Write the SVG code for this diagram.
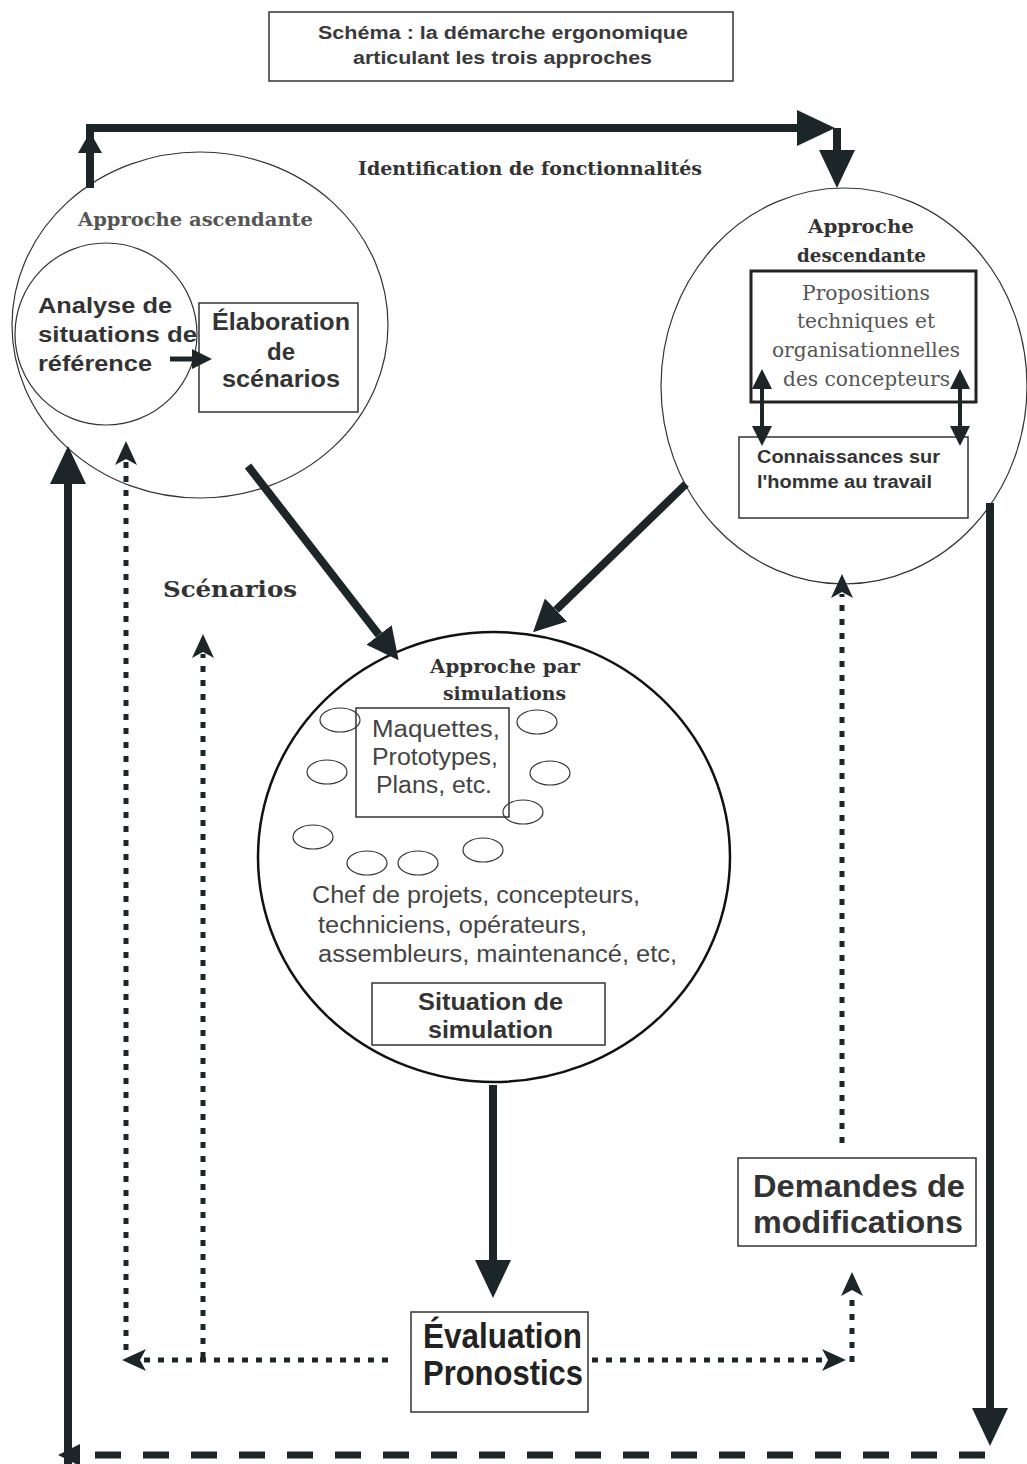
<svg xmlns="http://www.w3.org/2000/svg" width="1027" height="1464" viewBox="0 0 1027 1464">
<style>
.sans{font-family:"Liberation Sans",Arial,sans-serif;}
.serif{font-family:"DejaVu Serif","Liberation Serif",serif;}
.thin{fill:none;stroke:#333;stroke-width:1.2;}
.box{fill:none;stroke:#333;stroke-width:1.5;}
.thick{fill:none;stroke:#1c2629;stroke-width:8;}
.dot{fill:none;stroke:#1c2629;stroke-width:5;stroke-dasharray:6 8;}
.dash{fill:none;stroke:#1c2629;stroke-width:7;stroke-dasharray:26 22;}
.head{fill:#1c2629;}
</style>
<defs>
<marker id="big" markerUnits="userSpaceOnUse" markerWidth="38" markerHeight="36" refX="0" refY="18" orient="auto" viewBox="0 0 38 36"><path d="M0,0 L38,18 L0,36 z" fill="#1c2629"/></marker>
<marker id="mid" markerUnits="userSpaceOnUse" markerWidth="32" markerHeight="32" refX="0" refY="16" orient="auto" viewBox="0 0 32 32"><path d="M0,0 L32,16 L0,32 z" fill="#1c2629"/></marker>
<marker id="small" markerUnits="userSpaceOnUse" markerWidth="20" markerHeight="20" refX="2" refY="10" orient="auto-start-reverse" viewBox="0 0 20 20"><path d="M0,0 L20,10 L0,20 z" fill="#1c2629"/></marker>
<marker id="dh" markerUnits="userSpaceOnUse" markerWidth="24" markerHeight="22" refX="4" refY="11" orient="auto" viewBox="0 0 24 22"><path d="M0,0 L24,11 L0,22 L6,11 z" fill="#1c2629"/></marker>
</defs>

<g id="title">
<rect x="269" y="12" width="464" height="69" class="box" stroke-width="1.2"/>
<text class="sans" x="318" y="39" font-size="18" font-weight="bold" fill="#3a3a3a" textLength="370" lengthAdjust="spacingAndGlyphs">Schéma : la démarche ergonomique</text>
<text class="sans" x="353" y="64" font-size="18" font-weight="bold" fill="#3a3a3a" textLength="299" lengthAdjust="spacingAndGlyphs">articulant les trois approches</text>
</g>

<g id="label-identification">
<text class="serif" x="358" y="175" font-size="18" font-weight="bold" fill="#333" textLength="344" lengthAdjust="spacingAndGlyphs">Identification de fonctionnalités</text>
</g>
<g id="label-scenarios">
<text class="serif" x="163" y="597" font-size="23" font-weight="bold" fill="#333" textLength="134" lengthAdjust="spacingAndGlyphs">Scénarios</text>
</g>

<g id="approche-ascendante">
<ellipse cx="200" cy="325" rx="188" ry="173" class="thin"/>
<text class="serif" x="78" y="226" font-size="18" font-weight="bold" fill="#555" textLength="235" lengthAdjust="spacingAndGlyphs">Approche ascendante</text>
</g>
<g id="analyse">
<ellipse cx="106" cy="334" rx="91" ry="91" class="thin"/>
<text class="sans" x="38" y="313" font-size="22" font-weight="bold" fill="#333" textLength="134" lengthAdjust="spacingAndGlyphs">Analyse de</text>
<text class="sans" x="38" y="342" font-size="22" font-weight="bold" fill="#333" textLength="159" lengthAdjust="spacingAndGlyphs">situations de</text>
<text class="sans" x="38" y="371" font-size="22" font-weight="bold" fill="#333" textLength="114" lengthAdjust="spacingAndGlyphs">référence</text>
</g>
<g id="elaboration">
<rect x="199" y="303" width="159" height="109" class="box"/>
<text class="sans" x="212" y="330" font-size="23" font-weight="bold" fill="#333" textLength="138" lengthAdjust="spacingAndGlyphs">Élaboration</text>
<text class="sans" x="267" y="360" font-size="23" font-weight="bold" fill="#333" textLength="28" lengthAdjust="spacingAndGlyphs">de</text>
<text class="sans" x="222" y="387" font-size="23" font-weight="bold" fill="#333" textLength="118" lengthAdjust="spacingAndGlyphs">scénarios</text>
</g>

<g id="approche-descendante">
<ellipse cx="844" cy="386" rx="183" ry="198" class="thin"/>
<text class="serif" x="808" y="233" font-size="19" font-weight="bold" fill="#333" textLength="106" lengthAdjust="spacingAndGlyphs">Approche</text>
<text class="serif" x="797" y="262" font-size="19" font-weight="bold" fill="#333" textLength="129" lengthAdjust="spacingAndGlyphs">descendante</text>
</g>
<g id="propositions">
<rect x="751" y="271" width="225" height="131" fill="none" stroke="#222" stroke-width="3"/>
<text class="serif" x="802" y="300" font-size="20" fill="#555" textLength="128" lengthAdjust="spacingAndGlyphs">Propositions</text>
<text class="serif" x="797" y="328" font-size="20" fill="#555" textLength="138" lengthAdjust="spacingAndGlyphs">techniques et</text>
<text class="serif" x="772" y="357" font-size="20" fill="#555" textLength="188" lengthAdjust="spacingAndGlyphs">organisationnelles</text>
<text class="serif" x="783" y="386" font-size="20" fill="#555" textLength="167" lengthAdjust="spacingAndGlyphs">des concepteurs</text>
</g>
<g id="connaissances">
<rect x="739" y="437" width="229" height="81" class="box"/>
<text class="sans" x="757" y="463" font-size="18" font-weight="bold" fill="#333" textLength="183" lengthAdjust="spacingAndGlyphs">Connaissances sur</text>
<text class="sans" x="757" y="488" font-size="18" font-weight="bold" fill="#333" textLength="175" lengthAdjust="spacingAndGlyphs">l'homme au travail</text>
</g>

<g id="approche-simulations">
<ellipse cx="494" cy="857" rx="236" ry="225" fill="none" stroke="#111" stroke-width="2.5"/>
<text class="serif" x="430" y="673" font-size="18" font-weight="bold" fill="#333" textLength="150" lengthAdjust="spacingAndGlyphs">Approche par</text>
<text class="serif" x="443" y="700" font-size="18" font-weight="bold" fill="#333" textLength="123" lengthAdjust="spacingAndGlyphs">simulations</text>
<g class="thin" stroke="#222">
<ellipse cx="340" cy="720" rx="20" ry="12"/>
<ellipse cx="537" cy="722" rx="20" ry="12"/>
<ellipse cx="327" cy="772" rx="20" ry="12"/>
<ellipse cx="550" cy="773" rx="20" ry="12"/>
<ellipse cx="523" cy="812" rx="20" ry="12"/>
<ellipse cx="313" cy="837" rx="20" ry="12"/>
<ellipse cx="367" cy="863" rx="20" ry="12"/>
<ellipse cx="418" cy="863" rx="20" ry="12"/>
<ellipse cx="483" cy="850" rx="20" ry="12"/>
</g>
<text class="sans" x="312" y="903" font-size="23" fill="#444" textLength="328" lengthAdjust="spacingAndGlyphs">Chef de projets, concepteurs,</text>
<text class="sans" x="318" y="933" font-size="23" fill="#444" textLength="269" lengthAdjust="spacingAndGlyphs">techniciens, opérateurs,</text>
<text class="sans" x="318" y="962" font-size="23" fill="#444" textLength="359" lengthAdjust="spacingAndGlyphs">assembleurs, maintenancé, etc,</text>
</g>
<g id="maquettes">
<rect x="356" y="708" width="153" height="109" class="box"/>
<text class="sans" x="372" y="737" font-size="23" fill="#444" textLength="128" lengthAdjust="spacingAndGlyphs">Maquettes,</text>
<text class="sans" x="372" y="765" font-size="23" fill="#444" textLength="126" lengthAdjust="spacingAndGlyphs">Prototypes,</text>
<text class="sans" x="376" y="793" font-size="23" fill="#444" textLength="116" lengthAdjust="spacingAndGlyphs">Plans, etc.</text>
</g>
<g id="situation">
<rect x="372" y="983" width="233" height="62" class="box"/>
<text class="sans" x="418" y="1010" font-size="23" font-weight="bold" fill="#333" textLength="145" lengthAdjust="spacingAndGlyphs">Situation de</text>
<text class="sans" x="428" y="1038" font-size="23" font-weight="bold" fill="#333" textLength="125" lengthAdjust="spacingAndGlyphs">simulation</text>
</g>

<g id="evaluation">
<rect x="411" y="1312" width="177" height="100" class="box" stroke-width="2"/>
<text class="sans" x="423" y="1348" font-size="35" font-weight="bold" fill="#222" textLength="159" lengthAdjust="spacingAndGlyphs">Évaluation</text>
<text class="sans" x="423" y="1385" font-size="35" font-weight="bold" fill="#222" textLength="160" lengthAdjust="spacingAndGlyphs">Pronostics</text>
</g>
<g id="demandes">
<rect x="738" y="1158" width="238" height="88" class="box" stroke-width="2.5"/>
<text class="sans" x="753" y="1197" font-size="31" font-weight="bold" fill="#333" textLength="212" lengthAdjust="spacingAndGlyphs">Demandes de</text>
<text class="sans" x="753" y="1233" font-size="31" font-weight="bold" fill="#333" textLength="210" lengthAdjust="spacingAndGlyphs">modifications</text>
</g>

<g id="connectors">
<polyline points="90,188 90,128 797,128" class="thick" marker-end="url(#big)"/>
<polygon points="90,132 78,153 102,153" class="head"/>
<line x1="837" y1="128" x2="837" y2="150" class="thick" marker-end="url(#big)"/>
<line x1="248" y1="466" x2="379" y2="635" class="thick" marker-end="url(#mid)"/>
<line x1="686" y1="484" x2="556" y2="610" class="thick" marker-end="url(#mid)"/>
<line x1="762" y1="387" x2="762" y2="428" stroke="#1c2629" stroke-width="4" marker-start="url(#small)" marker-end="url(#small)"/>
<line x1="960" y1="387" x2="960" y2="428" stroke="#1c2629" stroke-width="4" marker-start="url(#small)" marker-end="url(#small)"/>
<line x1="170" y1="359" x2="194" y2="359" stroke="#1c2629" stroke-width="5" marker-end="url(#small)"/>
<line x1="493" y1="1085" x2="493" y2="1260" class="thick" marker-end="url(#big)"/>
<line x1="990" y1="503" x2="990" y2="1408" class="thick" marker-end="url(#big)"/>
<line x1="985" y1="1455" x2="78" y2="1455" class="dash"/>
<polygon points="58,1455 80,1444 80,1466" class="head"/>
<line x1="68" y1="1464" x2="68" y2="484" class="thick" stroke-width="7" marker-end="url(#big)"/>
<line x1="388" y1="1360" x2="142" y2="1360" class="dot" marker-end="url(#dh)"/>
<line x1="126" y1="1350" x2="126" y2="461" class="dot" marker-end="url(#dh)"/>
<line x1="203" y1="1358" x2="203" y2="654" class="dot" marker-end="url(#dh)"/>
<line x1="592" y1="1360" x2="826" y2="1360" class="dot" marker-end="url(#dh)"/>
<line x1="852" y1="1362" x2="852" y2="1292" class="dot" marker-end="url(#dh)"/>
<line x1="842" y1="1143" x2="842" y2="594" class="dot" marker-end="url(#dh)"/>
</g>
</svg>
